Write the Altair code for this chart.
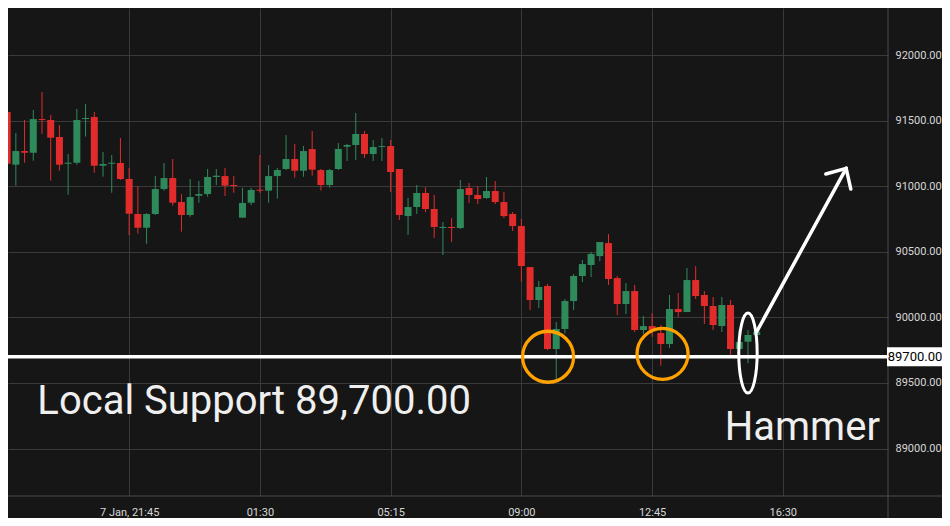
import json
import altair as alt
import pandas as pd

# ---------------- data (15-minute candles, minutes after 18:00) ----------------
opens = [91567, 91165, 91269, 91256, 91513, 91506, 91376, 91172, 91180, 91513,
         91529, 91157, 91172, 91178, 91056, 90789, 90684, 90789, 90979, 91063,
         90880, 90781, 90928, 90941, 91071, 91078, 91010, 90761, 90875, 90974,
         90967, 91078, 91132, 91208, 91119, 91284, 91124, 91010, 91132, 91302,
         91315, 91399, 91246, 91300, 91307, 91132, 90773, 90842, 90949, 90827,
         90682, 90690, 90682, 90987, 90934, 90911, 90964, 90880, 90789, 90697,
         90384, 90133, 90240, 89759, 89912, 90125, 90316, 90400, 90468, 90567,
         90300, 90102, 90201, 89904, 89934, 89881, 89797, 90064, 90041, 90285,
         90171, 90087, 89934, 90095, 89759, 89815, 89866]
highs = [91612, 91406, 91506, 91582, 91719, 91544, 91467, 91246, 91590, 91628,
         91567, 91262, 91239, 91368, 91140, 91002, 90796, 91079, 91178, 91208,
         90941, 91056, 91040, 91132, 91132, 91140, 91078, 90989, 90989, 91239,
         91162, 91140, 91391, 91323, 91307, 91422, 91132, 91132, 91330, 91323,
         91559, 91422, 91353, 91368, 91353, 91132, 90911, 91010, 90992, 90934,
         90728, 90758, 91048, 91025, 91002, 91071, 91040, 90957, 90804, 90751,
         90384, 90278, 90255, 89965, 90140, 90331, 90438, 90499, 90575, 90636,
         90316, 90262, 90247, 90011, 90031, 89942, 90171, 90186, 90377, 90392,
         90201, 90156, 90156, 90133, 89911, 89904, 89905]
lows = [90921, 91005, 91180, 91195, 91401, 91043, 91119, 90936, 91165, 91379,
        91104, 91073, 90951, 91048, 90628, 90639, 90562, 90781, 90967, 90852,
        90654, 90768, 90875, 90921, 91010, 90926, 90951, 90761, 90857, 90951,
        90875, 90906, 91124, 91066, 91073, 91081, 90967, 90990, 91124, 91193,
        91201, 91216, 91193, 91193, 90957, 90743, 90629, 90789, 90804, 90606,
        90476, 90575, 90674, 90873, 90865, 90903, 90865, 90758, 90659, 90272,
        90056, 90072, 89751, 89522, 89878, 90056, 90270, 90308, 90430, 90247,
        90018, 90026, 89889, 89873, 89853, 89632, 89767, 90003, 90041, 90140,
        89950, 89904, 89889, 89713, 89759, 89650, 89860]
closes = [91172, 91269, 91256, 91513, 91506, 91371, 91165, 91180, 91506, 91521,
          91157, 91170, 91180, 91056, 90791, 90684, 90789, 90979, 91063, 90875,
          90781, 90918, 90941, 91071, 91081, 91005, 91002, 90873, 90972, 90967,
          91078, 91124, 91208, 91119, 91269, 91127, 91010, 91124, 91285, 91315,
          91399, 91246, 91300, 91307, 91109, 90781, 90842, 90949, 90827, 90690,
          90690, 90682, 90979, 90934, 90903, 90964, 90880, 90773, 90697, 90392,
          90133, 90232, 89759, 89912, 90125, 90316, 90407, 90484, 90575, 90293,
          90102, 90201, 89904, 89934, 89904, 89797, 90064, 90041, 90285, 90163,
          90087, 89942, 90095, 89759, 89812, 89866, 89891]
minutes = [15 * (i + 1) for i in range(len(opens))]

tick_minutes = [225, 450, 675, 900, 1125, 1350]
tick_labels = ["7 Jan, 21:45", "01:30", "05:15", "09:00", "12:45", "16:30"]
price_ticks = [89000, 89500, 90000, 90500, 91000, 91500, 92000]

support_level = [89700]
support_text = ["Local Support 89,700.00"]
support_text_pos = [(67, 89263)]
hammer_text = ["Hammer"]
hammer_text_pos = [(1250, 89065)]
circle_centers = [(946, 89700), (1143, 89722)]
ellipse_center = [(1290, 89728)]
arrow_segments = [  # (x, y, x2, y2) in minutes / price
    (1305, 89891, 1459, 91137),
    (1459, 91137, 1424, 91094),
    (1459, 91137, 1467, 90979),
]

# ---------------- styling ----------------
BG = "#161616"
GRID = "#3a3a3a"
SEP = "#4a4a4a"
LABEL = "#d6d6d6"
UP = "#2f8a5b"
DOWN = "#e22c2c"
W, H = 880, 488

df = pd.DataFrame({"t": minutes, "open": opens, "high": highs,
                   "low": lows, "close": closes})
df["dir"] = ["up" if c >= o else "down" for o, c in zip(opens, closes)]

xscale = alt.Scale(domain=[25.1, 1522.4], nice=False, zero=False)
yscale = alt.Scale(domain=[88638, 92360], nice=False, zero=False)
color = alt.Color("dir:N", scale=alt.Scale(domain=["up", "down"], range=[UP, DOWN]),
                  legend=None)

label_expr = "{}[indexof({}, datum.value)]".format(json.dumps(tick_labels),
                                                  json.dumps(tick_minutes))
xaxis = alt.Axis(values=tick_minutes, labelExpr=label_expr, grid=True,
                 gridColor=GRID, gridWidth=1, domain=False, ticks=False,
                 labelColor=LABEL, labelFont="Roboto", labelFontSize=11,
                 labelPadding=10, title=None, labelOverlap=False, labelFlush=False)
yaxis = alt.Axis(orient="right", values=price_ticks, format=".2f", grid=True,
                 gridColor=GRID, gridWidth=1, domain=False, ticks=False,
                 labelColor=LABEL, labelFont="Roboto", labelFontSize=11,
                 labelPadding=7, title=None, labelOverlap=False)


def X(field):
    return alt.X(field, scale=xscale, axis=xaxis)


def Y(field):
    return alt.Y(field, scale=yscale, axis=yaxis)


base = alt.Chart(df)
wicks = base.mark_rule(strokeWidth=1, clip=True).encode(
    x=X("t:Q"), y=Y("low:Q"), y2="high:Q", color=color)
bodies = base.mark_bar(size=7, clip=True).encode(
    x=X("t:Q"), y=Y("open:Q"), y2="close:Q", color=color)

sep = alt.Chart(pd.DataFrame({"a": [0]}))
vsep = sep.mark_rule(color=SEP, strokeWidth=1).encode(
    x=alt.value(W), y=alt.value(0), y2=alt.value(H + 40))
hsep = sep.mark_rule(color=SEP, strokeWidth=1).encode(
    y=alt.value(H), x=alt.value(0), x2=alt.value(W + 60))

sup_df = pd.DataFrame({"level": support_level})
support = alt.Chart(sup_df).mark_rule(color="white", strokeWidth=3.5).encode(
    y=Y("level:Q"), x=alt.value(0), x2=alt.value(W))
sup_box = alt.Chart(sup_df).transform_calculate(
    lo="datum.level - 72", hi="datum.level + 72"
).mark_rect(color="white").encode(
    y=Y("lo:Q"), y2="hi:Q", x=alt.value(W - 1), x2=alt.value(W + 60))
sup_label = alt.Chart(sup_df).transform_calculate(
    lab="format(datum.level, '.2f')"
).mark_text(color="black", font="Roboto", fontSize=13, align="center",
            baseline="middle").encode(
    y=Y("level:Q"), text="lab:N", x=alt.value(W + 27))

circ_df = pd.DataFrame({"x": [c[0] for c in circle_centers],
                        "y": [c[1] for c in circle_centers]})
circles = alt.Chart(circ_df).mark_point(
    shape="circle", size=2601, filled=False, stroke="#ffa200", strokeWidth=3.3,
    opacity=1).encode(x=X("x:Q"), y=Y("y:Q"))

ell_df = pd.DataFrame({"x": [e[0] for e in ellipse_center],
                       "y": [e[1] for e in ellipse_center]})
ellipse = alt.Chart(ell_df).mark_point(
    shape="M0,-1 A0.23,1 0 1,1 0,1 A0.23,1 0 1,1 0,-1 Z",
    size=6400, filled=False, stroke="white", strokeWidth=3, opacity=1).encode(
    x=X("x:Q"), y=Y("y:Q"))

arr_df = pd.DataFrame(arrow_segments, columns=["x", "y", "x2", "y2"])
arrow = alt.Chart(arr_df).mark_rule(color="white", strokeWidth=3.5,
                                    strokeCap="round").encode(
    x=X("x:Q"), x2="x2:Q", y=Y("y:Q"), y2="y2:Q")

txt_df = pd.DataFrame({
    "x": [support_text_pos[0][0], hammer_text_pos[0][0]],
    "y": [support_text_pos[0][1], hammer_text_pos[0][1]],
    "label": support_text + hammer_text,
})
texts = alt.Chart(txt_df).mark_text(
    color="#efefef", font="Roboto", fontSize=40, align="left",
    baseline="alphabetic").encode(x=X("x:Q"), y=Y("y:Q"), text="label:N")

chart = alt.layer(
    wicks, bodies, vsep, hsep, support, sup_box, sup_label,
    circles, ellipse, arrow, texts
).properties(
    width=W, height=H,
    autosize=alt.AutoSizeParams(type="none"),
    padding={"left": 0, "top": 0, "right": 54, "bottom": 22},
    background=BG,
).configure_view(stroke=None)

chart.save("out.html", embed_options={"renderer": "svg", "actions": False})
